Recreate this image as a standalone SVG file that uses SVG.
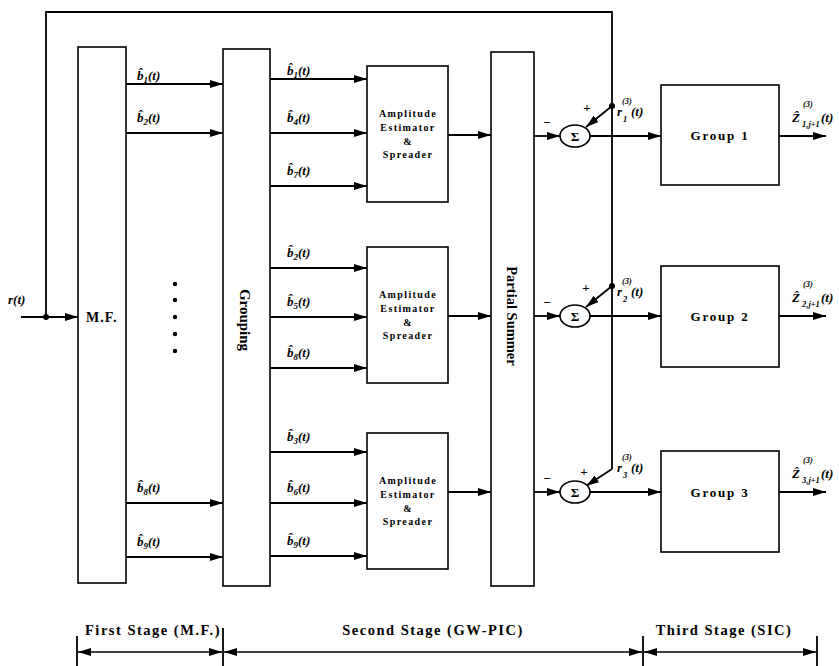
<svg xmlns="http://www.w3.org/2000/svg" width="839" height="666" viewBox="0 0 839 666">
<defs>
<marker id="ah" markerUnits="userSpaceOnUse" markerWidth="14" markerHeight="10" refX="13" refY="4" orient="auto-start-reverse"><path d="M0,0 L13,4 L0,8 z" fill="#000"/></marker>
<style>
.box{fill:#fff;stroke:#000;stroke-width:1.6}
.ln{fill:none;stroke:#000;stroke-width:1.8}
.ar{fill:none;stroke:#000;stroke-width:1.8;marker-end:url(#ah)}
.dim{fill:none;stroke:#000;stroke-width:1.6;marker-start:url(#ah);marker-end:url(#ah)}
.t{font-family:"Liberation Serif",serif;font-weight:bold}
.lb{font-family:"Liberation Serif",serif;font-weight:bold;font-style:italic;font-size:13px}
.sm{font-family:"Liberation Serif",serif;font-weight:bold;font-style:italic;font-size:8.5px}
.ae{font-family:"Liberation Serif",serif;font-weight:bold;font-size:10px;letter-spacing:1.4px;text-anchor:middle}
.gr{font-family:"Liberation Serif",serif;font-weight:bold;font-size:13px;letter-spacing:1.8px;text-anchor:middle}
.st{font-family:"Liberation Serif",serif;font-weight:bold;font-size:14.5px;letter-spacing:1.5px;text-anchor:middle}
</style>
</defs>
<g id="connectors">
<polyline class="ln" points="46,317 46,12 612,12 612,469"/>
<line class="ar" x1="612" y1="469" x2="586" y2="486"/>
<line class="ar" x1="21" y1="317" x2="78" y2="317"/>
<circle cx="46" cy="317" r="3"/>
<line class="ar" x1="126" y1="84" x2="223" y2="84"/>
<line class="ar" x1="126" y1="133" x2="223" y2="133"/>
<line class="ar" x1="126" y1="503" x2="223" y2="503"/>
<line class="ar" x1="126" y1="557" x2="223" y2="557"/>
<line class="ar" x1="270" y1="79" x2="367" y2="79"/>
<line class="ar" x1="270" y1="133" x2="367" y2="133"/>
<line class="ar" x1="270" y1="186" x2="367" y2="186"/>
<line class="ar" x1="270" y1="268" x2="367" y2="268"/>
<line class="ar" x1="270" y1="317" x2="367" y2="317"/>
<line class="ar" x1="270" y1="368" x2="367" y2="368"/>
<line class="ar" x1="270" y1="452" x2="367" y2="452"/>
<line class="ar" x1="270" y1="503" x2="367" y2="503"/>
<line class="ar" x1="270" y1="556" x2="367" y2="556"/>
<line class="ar" x1="448" y1="135" x2="491" y2="135"/>
<line class="ar" x1="448" y1="316" x2="491" y2="316"/>
<line class="ar" x1="448" y1="492" x2="491" y2="492"/>
<line class="ar" x1="534" y1="136" x2="560" y2="136"/>
<line class="ar" x1="534" y1="316" x2="560" y2="316"/>
<line class="ar" x1="534" y1="492" x2="560" y2="492"/>
<line class="ar" x1="590" y1="136" x2="661" y2="136"/>
<line class="ar" x1="590" y1="316" x2="661" y2="316"/>
<line class="ar" x1="590" y1="492" x2="661" y2="492"/>
<circle cx="612" cy="106" r="3"/>
<circle cx="612" cy="286" r="3"/>
<line class="ar" x1="612" y1="106" x2="586" y2="127"/>
<line class="ar" x1="612" y1="286" x2="586" y2="307"/>
<line class="ar" x1="779" y1="136" x2="826" y2="136"/>
<line class="ar" x1="779" y1="316" x2="826" y2="316"/>
<line class="ar" x1="779" y1="492" x2="826" y2="492"/>
</g>
<g id="mf"><rect class="box" x="78" y="47" width="48" height="536"/><text class="t" x="86" y="322" font-size="14" letter-spacing="1">M.F.</text></g>
<g id="dots"><circle cx="175" cy="284" r="2.2"/><circle cx="175" cy="300" r="2.2"/><circle cx="175" cy="317" r="2.2"/><circle cx="175" cy="334" r="2.2"/><circle cx="175" cy="351" r="2.2"/></g>
<g id="grouping"><rect class="box" x="223" y="49" width="47" height="537"/><text class="t" font-size="15" text-anchor="middle" transform="translate(240,320) rotate(90)">Grouping</text></g>
<g id="ae1"><rect class="box" x="367" y="66" width="81" height="136"/><text class="ae" x="408" y="117">Amplitude</text><text class="ae" x="408" y="131">Estimator</text><text class="ae" x="408" y="145">&amp;</text><text class="ae" x="408" y="158">Spreader</text></g>
<g id="ae2"><rect class="box" x="367" y="247" width="81" height="136"/><text class="ae" x="408" y="298">Amplitude</text><text class="ae" x="408" y="312">Estimator</text><text class="ae" x="408" y="326">&amp;</text><text class="ae" x="408" y="339">Spreader</text></g>
<g id="ae3"><rect class="box" x="367" y="433" width="81" height="136"/><text class="ae" x="408" y="484">Amplitude</text><text class="ae" x="408" y="498">Estimator</text><text class="ae" x="408" y="512">&amp;</text><text class="ae" x="408" y="525">Spreader</text></g>
<g id="summer"><rect class="box" x="491" y="52" width="43" height="534"/><text class="t" font-size="14.5" text-anchor="middle" transform="translate(507,316) rotate(90)">Partial Summer</text></g>
<g id="sum1"><ellipse class="box" cx="575" cy="136" rx="15" ry="11"/><text class="t" x="575" y="141" font-size="13" text-anchor="middle">Σ</text><text class="t" x="587" y="112" font-size="13" text-anchor="middle">+</text><text class="t" x="547" y="127" font-size="13" text-anchor="middle">−</text></g>
<g id="sum2"><ellipse class="box" cx="575" cy="316" rx="15" ry="11"/><text class="t" x="575" y="321" font-size="13" text-anchor="middle">Σ</text><text class="t" x="586" y="292" font-size="13" text-anchor="middle">+</text><text class="t" x="547" y="307" font-size="13" text-anchor="middle">−</text></g>
<g id="sum3"><ellipse class="box" cx="575" cy="492" rx="15" ry="11"/><text class="t" x="575" y="497" font-size="13" text-anchor="middle">Σ</text><text class="t" x="584" y="476" font-size="13" text-anchor="middle">+</text><text class="t" x="547" y="483" font-size="13" text-anchor="middle">−</text></g>
<g id="g1"><rect class="box" x="661" y="85" width="118" height="100"/><text class="gr" x="720" y="140">Group 1</text></g>
<g id="g2"><rect class="box" x="661" y="266" width="118" height="101"/><text class="gr" x="720" y="321">Group 2</text></g>
<g id="g3"><rect class="box" x="661" y="451" width="118" height="101"/><text class="gr" x="720" y="497">Group 3</text></g>
<g id="labels">
<text class="lb" x="8" y="304">r(t)</text>
<text class="lb" x="137" y="80">b̂<tspan font-size="9" dy="3">1</tspan><tspan dy="-3">(t)</tspan></text>
<text class="lb" x="137" y="122">b̂<tspan font-size="9" dy="3">2</tspan><tspan dy="-3">(t)</tspan></text>
<text class="lb" x="137" y="492">b̂<tspan font-size="9" dy="3">8</tspan><tspan dy="-3">(t)</tspan></text>
<text class="lb" x="137" y="546">b̂<tspan font-size="9" dy="3">9</tspan><tspan dy="-3">(t)</tspan></text>
<text class="lb" x="287" y="75">b̂<tspan font-size="9" dy="3">1</tspan><tspan dy="-3">(t)</tspan></text>
<text class="lb" x="287" y="122">b̂<tspan font-size="9" dy="3">4</tspan><tspan dy="-3">(t)</tspan></text>
<text class="lb" x="287" y="175">b̂<tspan font-size="9" dy="3">7</tspan><tspan dy="-3">(t)</tspan></text>
<text class="lb" x="287" y="257">b̂<tspan font-size="9" dy="3">2</tspan><tspan dy="-3">(t)</tspan></text>
<text class="lb" x="287" y="306">b̂<tspan font-size="9" dy="3">5</tspan><tspan dy="-3">(t)</tspan></text>
<text class="lb" x="287" y="357">b̂<tspan font-size="9" dy="3">8</tspan><tspan dy="-3">(t)</tspan></text>
<text class="lb" x="287" y="441">b̂<tspan font-size="9" dy="3">3</tspan><tspan dy="-3">(t)</tspan></text>
<text class="lb" x="287" y="492">b̂<tspan font-size="9" dy="3">6</tspan><tspan dy="-3">(t)</tspan></text>
<text class="lb" x="287" y="545">b̂<tspan font-size="9" dy="3">9</tspan><tspan dy="-3">(t)</tspan></text>
<text class="lb" x="617" y="116">r</text><text class="sm" x="622" y="104">(3)</text><text class="sm" x="623" y="122">1</text><text class="lb" x="631" y="116">(t)</text>
<text class="lb" x="617" y="296">r</text><text class="sm" x="622" y="284">(3)</text><text class="sm" x="623" y="302">2</text><text class="lb" x="631" y="296">(t)</text>
<text class="lb" x="617" y="472">r</text><text class="sm" x="622" y="460">(3)</text><text class="sm" x="623" y="478">3</text><text class="lb" x="631" y="472">(t)</text>
<text class="lb" x="792" y="122">Ẑ</text><text class="sm" x="803" y="107">(3)</text><text class="sm" x="802" y="127">1,j+1</text><text class="lb" x="821" y="122">(t)</text>
<text class="lb" x="792" y="302">Ẑ</text><text class="sm" x="803" y="287">(3)</text><text class="sm" x="802" y="307">2,j+1</text><text class="lb" x="821" y="302">(t)</text>
<text class="lb" x="792" y="478">Ẑ</text><text class="sm" x="803" y="463">(3)</text><text class="sm" x="802" y="483">3,j+1</text><text class="lb" x="821" y="478">(t)</text>
</g>
<g id="stages">
<text class="st" x="153" y="635">First Stage (M.F.)</text>
<text class="st" x="433" y="635" letter-spacing="2.2">Second Stage (GW-PIC)</text>
<text class="st" x="724" y="635">Third Stage (SIC)</text>
<line class="ln" x1="77" y1="636" x2="77" y2="666"/>
<line class="ln" x1="223" y1="628" x2="223" y2="666"/>
<line class="ln" x1="643" y1="636" x2="643" y2="666"/>
<line class="ln" x1="817" y1="636" x2="817" y2="666"/>
<line class="dim" x1="78" y1="652" x2="222" y2="652"/>
<line class="dim" x1="224" y1="652" x2="642" y2="652"/>
<line class="dim" x1="644" y1="652" x2="816" y2="652"/>
</g>
</svg>
